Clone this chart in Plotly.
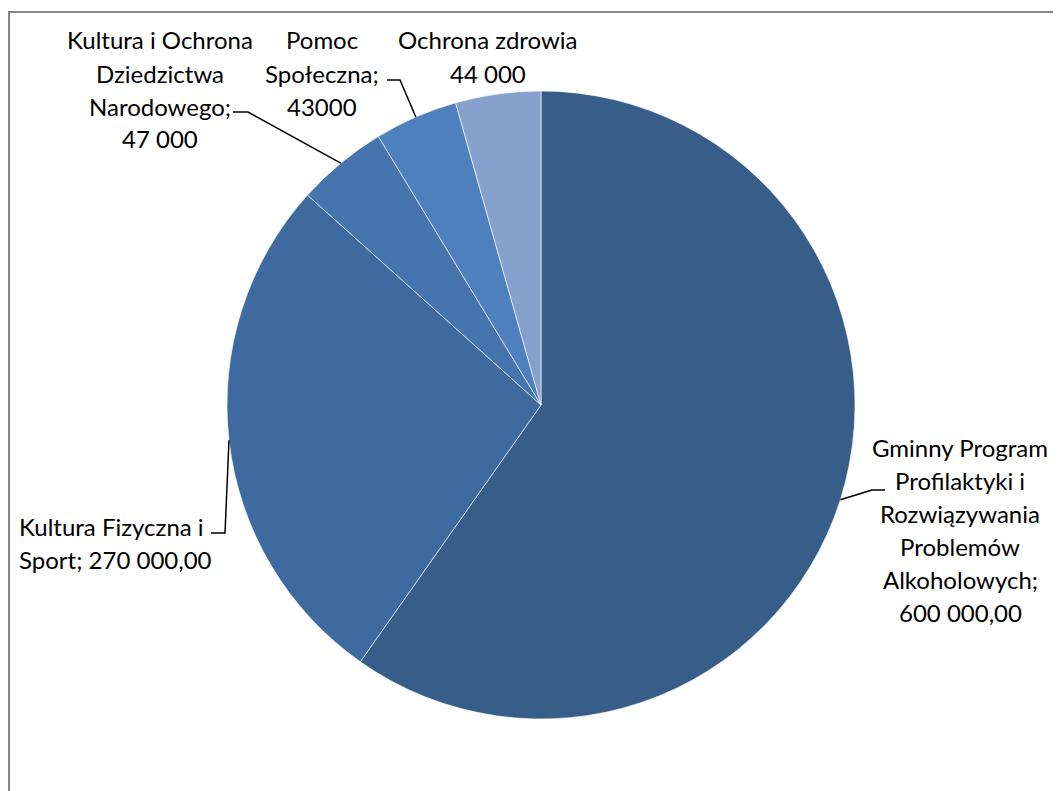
import math
import plotly.graph_objects as go

# page has an 8px body margin: figure occupies 1053x783 starting at (8,8)
OFF = 8
W, H = 1053, 783

categories = [
    "Gminny Program Profilaktyki i Rozwiązywania Problemów Alkoholowych",
    "Kultura Fizyczna i Sport",
    "Kultura i Ochrona Dziedzictwa Narodowego",
    "Pomoc Społeczna",
    "Ochrona zdrowia",
]
values = [600000, 270000, 47000, 43000, 44000]
label_lines = [
    ["Gminny Program", "Profilaktyki i", "Rozwiązywania", "Problemów", "Alkoholowych;", "600 000,00"],
    ["Kultura Fizyczna i", "Sport; 270 000,00"],
    ["Kultura i Ochrona", "Dziedzictwa", "Narodowego;", "47 000"],
    ["Pomoc", "Społeczna;", "43000"],
    ["Ochrona zdrowia", "44 000"],
]
colors = ["#375D89", "#3F6A9F", "#4674AD", "#4E80BD", "#86A1CB"]

# pie geometry (screen pixels)
CX, CY, R = 541, 405, 314


def px(x):
    return (x - OFF) / W


def py(y):
    return 1 - (y - OFF) / H


FONT = dict(family="Lato, Open Sans, sans-serif", size=24, color="#000000")
LINE_H = 33

fig = go.Figure()
fig.add_trace(go.Pie(
    labels=categories,
    values=values,
    sort=False,
    direction="clockwise",
    rotation=0,
    marker=dict(colors=colors, line=dict(color="#FFFFFF", width=0.6)),
    textinfo="none",
    hoverinfo="label+value",
    showlegend=False,
    domain=dict(x=[px(CX - R), px(CX + R)], y=[py(CY + R), py(CY - R)]),
))

# label placement: (x, first line center y, anchor)
label_pos = [
    (960, 447, "center"),
    (17, 526, "left"),
    (160, 40, "center"),
    (322, 40, "center"),
    (488, 40, "center"),
]
# leader polyline after the pie-edge anchor (None = no leader)
leaders = [
    [(872, 490), (885, 490)],
    [(225, 533), (211, 533)],
    [(248, 112), (233, 112)],
    [(400, 80), (387, 80)],
    None,
]

annotations = []
for lines, (x, y, anc) in zip(label_lines, label_pos):
    for i, line in enumerate(lines):
        annotations.append(dict(
            x=px(x), y=py(y + i * LINE_H), xref="paper", yref="paper",
            text=line, showarrow=False,
            xanchor=anc, yanchor="middle", font=FONT,
        ))

shapes = []
total = sum(values)
cum = 0.0
for v, pts in zip(values, leaders):
    mid = (cum + v / 2) / total * 2 * math.pi
    cum += v
    if pts is None:
        continue
    ax = CX + R * math.sin(mid)
    ay = CY - R * math.cos(mid)
    path = [(ax, ay)] + pts
    d = "M " + " L ".join(f"{px(a)},{py(b)}" for a, b in path)
    shapes.append(dict(type="path", path=d, xref="paper", yref="paper",
                       line=dict(color="#000000", width=1.5)))

# chart area border
shapes.append(dict(type="rect", xref="paper", yref="paper",
                   x0=px(9), x1=px(1100), y0=py(830), y1=py(12),
                   line=dict(color="#868686", width=2), fillcolor="rgba(0,0,0,0)"))

fig.update_layout(
    width=W, height=H,
    margin=dict(l=0, r=0, t=0, b=0),
    paper_bgcolor="#FFFFFF",
    plot_bgcolor="#FFFFFF",
    annotations=annotations,
    shapes=shapes,
)

fig.write_html("out.html")
